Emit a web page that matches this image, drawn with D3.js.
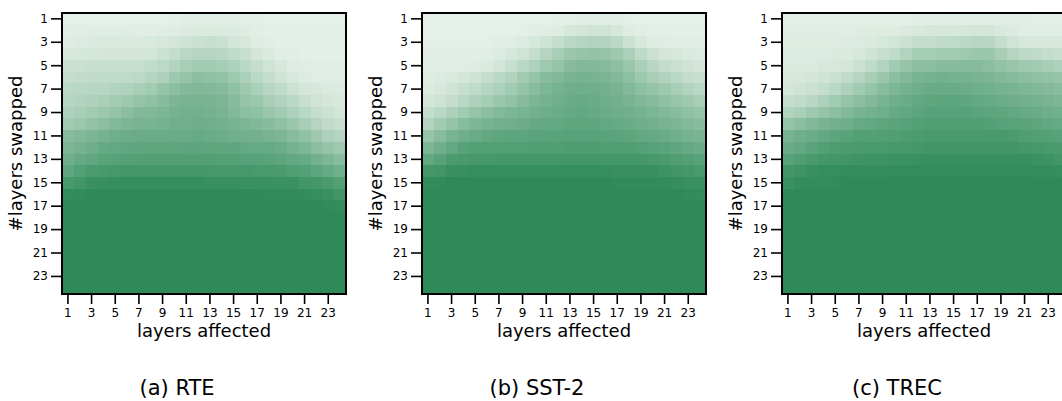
<!DOCTYPE html>
<html>
<head>
<meta charset="utf-8">
<script src="https://cdn.jsdelivr.net/npm/d3@7"></script>
<style>
  body { margin: 0; background: #fff; }
  svg { display: block; }
  text { font-family: "DejaVu Sans", sans-serif; fill: #000; }
</style>
</head>
<body>
<svg id="chart" width="1062" height="401"></svg>
<script>
// Layer indices (rows: layers swapped, columns: layers affected)
const layerIds = [1,2,3,4,5,6,7,8,9,10,11,12,13,14,15,16,17,18,19,20,21,22,23,24];
const tickLayers = [1,3,5,7,9,11,13,15,17,19,21,23];
const captions = ["(a) RTE", "(b) SST-2", "(c) TREC"];

// Normalised effect per (swapped, affected) pair, 0 = none, 1 = full
const rteGrid = [
  [0.02,0.02,0.02,0.02,0.02,0.02,0.02,0.02,0.02,0.03,0.04,0.05,0.05,0.05,0.04,0.03,0.03,0.02,0.02,0.02,0.02,0.02,0.02,0.02],
  [0.04,0.04,0.05,0.05,0.05,0.05,0.04,0.04,0.05,0.06,0.07,0.08,0.08,0.08,0.07,0.06,0.04,0.03,0.03,0.03,0.03,0.03,0.03,0.03],
  [0.06,0.07,0.08,0.09,0.09,0.08,0.08,0.09,0.10,0.12,0.15,0.17,0.18,0.17,0.12,0.10,0.06,0.04,0.03,0.03,0.03,0.03,0.03,0.03],
  [0.10,0.10,0.11,0.12,0.12,0.12,0.12,0.13,0.16,0.20,0.25,0.28,0.28,0.26,0.22,0.18,0.12,0.08,0.05,0.04,0.03,0.03,0.03,0.03],
  [0.17,0.17,0.18,0.18,0.18,0.18,0.19,0.21,0.24,0.30,0.35,0.38,0.38,0.36,0.32,0.25,0.20,0.14,0.10,0.06,0.05,0.04,0.04,0.04],
  [0.20,0.21,0.22,0.22,0.23,0.23,0.24,0.28,0.32,0.40,0.45,0.50,0.48,0.46,0.40,0.33,0.25,0.20,0.14,0.10,0.07,0.05,0.05,0.05],
  [0.25,0.26,0.27,0.27,0.30,0.31,0.35,0.38,0.45,0.50,0.55,0.56,0.55,0.53,0.48,0.40,0.33,0.27,0.22,0.16,0.12,0.10,0.08,0.07],
  [0.28,0.30,0.31,0.33,0.37,0.40,0.45,0.48,0.52,0.58,0.60,0.61,0.60,0.58,0.52,0.45,0.42,0.35,0.30,0.25,0.18,0.14,0.12,0.10],
  [0.32,0.35,0.38,0.42,0.45,0.50,0.55,0.56,0.58,0.62,0.63,0.63,0.62,0.60,0.55,0.50,0.48,0.42,0.38,0.32,0.25,0.20,0.16,0.12],
  [0.38,0.42,0.46,0.50,0.55,0.58,0.60,0.60,0.62,0.65,0.65,0.66,0.65,0.63,0.60,0.58,0.55,0.52,0.48,0.42,0.35,0.28,0.22,0.18],
  [0.52,0.55,0.58,0.62,0.65,0.67,0.68,0.68,0.68,0.69,0.69,0.70,0.68,0.67,0.65,0.63,0.63,0.60,0.58,0.52,0.47,0.40,0.32,0.28],
  [0.58,0.62,0.66,0.70,0.72,0.73,0.73,0.74,0.74,0.74,0.75,0.75,0.74,0.73,0.73,0.71,0.70,0.70,0.67,0.62,0.57,0.50,0.45,0.40],
  [0.65,0.70,0.73,0.77,0.78,0.79,0.80,0.80,0.80,0.80,0.80,0.80,0.80,0.79,0.79,0.78,0.78,0.77,0.75,0.72,0.70,0.63,0.58,0.52],
  [0.73,0.80,0.84,0.86,0.87,0.88,0.88,0.88,0.88,0.88,0.88,0.88,0.87,0.87,0.87,0.87,0.86,0.86,0.85,0.82,0.80,0.75,0.70,0.65],
  [0.86,0.90,0.94,0.95,0.96,0.96,0.96,0.96,0.96,0.96,0.96,0.96,0.95,0.95,0.95,0.94,0.94,0.94,0.93,0.93,0.90,0.88,0.85,0.80],
  [0.98,0.99,1,1,1,1,1,1,1,1,1,1,1,1,1,1,1,0.99,0.99,0.99,0.98,0.96,0.94,0.90],
  [1,1,1,1,1,1,1,1,1,1,1,1,1,1,1,1,1,1,1,1,1,1,0.99,0.98],
  [1,1,1,1,1,1,1,1,1,1,1,1,1,1,1,1,1,1,1,1,1,1,1,1],
  [1,1,1,1,1,1,1,1,1,1,1,1,1,1,1,1,1,1,1,1,1,1,1,1],
  [1,1,1,1,1,1,1,1,1,1,1,1,1,1,1,1,1,1,1,1,1,1,1,1],
  [1,1,1,1,1,1,1,1,1,1,1,1,1,1,1,1,1,1,1,1,1,1,1,1],
  [1,1,1,1,1,1,1,1,1,1,1,1,1,1,1,1,1,1,1,1,1,1,1,1],
  [1,1,1,1,1,1,1,1,1,1,1,1,1,1,1,1,1,1,1,1,1,1,1,1],
  [1,1,1,1,1,1,1,1,1,1,1,1,1,1,1,1,1,1,1,1,1,1,1,1]
];

const sst2Grid = [
  [0.02,0.02,0.02,0.02,0.02,0.02,0.02,0.02,0.02,0.02,0.02,0.03,0.03,0.04,0.05,0.05,0.04,0.03,0.02,0.02,0.02,0.02,0.02,0.02],
  [0.02,0.02,0.02,0.02,0.02,0.02,0.02,0.02,0.03,0.04,0.05,0.06,0.10,0.12,0.14,0.14,0.10,0.06,0.04,0.03,0.03,0.03,0.03,0.03],
  [0.03,0.03,0.03,0.03,0.03,0.03,0.04,0.05,0.07,0.10,0.15,0.20,0.25,0.28,0.30,0.29,0.24,0.16,0.10,0.06,0.05,0.04,0.04,0.04],
  [0.04,0.04,0.04,0.04,0.04,0.05,0.07,0.10,0.14,0.20,0.28,0.35,0.42,0.45,0.46,0.45,0.40,0.33,0.23,0.16,0.12,0.10,0.08,0.07],
  [0.05,0.05,0.05,0.05,0.06,0.08,0.12,0.18,0.25,0.32,0.40,0.45,0.52,0.55,0.55,0.53,0.49,0.42,0.33,0.26,0.20,0.17,0.14,0.12],
  [0.06,0.07,0.09,0.12,0.15,0.20,0.25,0.30,0.38,0.45,0.52,0.56,0.60,0.62,0.61,0.59,0.55,0.49,0.41,0.35,0.30,0.25,0.20,0.18],
  [0.08,0.10,0.14,0.18,0.22,0.28,0.32,0.38,0.45,0.52,0.58,0.62,0.65,0.66,0.65,0.63,0.60,0.55,0.49,0.45,0.40,0.35,0.30,0.25],
  [0.12,0.15,0.20,0.26,0.32,0.36,0.42,0.46,0.52,0.58,0.62,0.65,0.68,0.70,0.68,0.66,0.63,0.60,0.56,0.53,0.48,0.44,0.40,0.35],
  [0.20,0.25,0.32,0.38,0.45,0.50,0.55,0.57,0.60,0.63,0.66,0.68,0.71,0.72,0.70,0.68,0.66,0.64,0.62,0.58,0.55,0.52,0.48,0.45],
  [0.30,0.38,0.45,0.52,0.57,0.60,0.63,0.65,0.67,0.70,0.71,0.72,0.74,0.74,0.73,0.72,0.70,0.68,0.66,0.63,0.60,0.58,0.55,0.52],
  [0.45,0.52,0.60,0.65,0.68,0.72,0.74,0.75,0.75,0.76,0.76,0.77,0.78,0.78,0.78,0.77,0.76,0.74,0.72,0.70,0.68,0.65,0.62,0.60],
  [0.58,0.65,0.72,0.78,0.80,0.80,0.81,0.81,0.81,0.82,0.82,0.82,0.83,0.83,0.83,0.82,0.82,0.82,0.80,0.78,0.76,0.73,0.70,0.68],
  [0.72,0.78,0.84,0.86,0.87,0.87,0.88,0.88,0.88,0.88,0.88,0.88,0.89,0.89,0.89,0.88,0.88,0.88,0.88,0.86,0.84,0.82,0.80,0.78],
  [0.88,0.90,0.94,0.95,0.96,0.96,0.96,0.96,0.96,0.96,0.96,0.96,0.96,0.96,0.96,0.96,0.95,0.95,0.95,0.95,0.92,0.90,0.88,0.86],
  [0.98,0.99,1,1,1,1,1,1,1,1,1,1,1,1,1,1,0.99,0.99,0.99,0.99,0.98,0.96,0.95,0.94],
  [1,1,1,1,1,1,1,1,1,1,1,1,1,1,1,1,1,1,1,1,1,1,0.99,0.98],
  [1,1,1,1,1,1,1,1,1,1,1,1,1,1,1,1,1,1,1,1,1,1,1,1],
  [1,1,1,1,1,1,1,1,1,1,1,1,1,1,1,1,1,1,1,1,1,1,1,1],
  [1,1,1,1,1,1,1,1,1,1,1,1,1,1,1,1,1,1,1,1,1,1,1,1],
  [1,1,1,1,1,1,1,1,1,1,1,1,1,1,1,1,1,1,1,1,1,1,1,1],
  [1,1,1,1,1,1,1,1,1,1,1,1,1,1,1,1,1,1,1,1,1,1,1,1],
  [1,1,1,1,1,1,1,1,1,1,1,1,1,1,1,1,1,1,1,1,1,1,1,1],
  [1,1,1,1,1,1,1,1,1,1,1,1,1,1,1,1,1,1,1,1,1,1,1,1],
  [1,1,1,1,1,1,1,1,1,1,1,1,1,1,1,1,1,1,1,1,1,1,1,1]
];

const trecGrid = [
  [0.03,0.03,0.03,0.03,0.03,0.03,0.03,0.03,0.03,0.03,0.03,0.04,0.04,0.05,0.05,0.05,0.05,0.05,0.05,0.04,0.04,0.03,0.03,0.03],
  [0.05,0.05,0.05,0.05,0.05,0.05,0.06,0.06,0.06,0.06,0.07,0.09,0.10,0.10,0.10,0.11,0.12,0.12,0.09,0.07,0.05,0.05,0.05,0.05],
  [0.06,0.06,0.06,0.06,0.06,0.07,0.07,0.08,0.10,0.13,0.16,0.20,0.20,0.22,0.23,0.25,0.27,0.26,0.20,0.14,0.10,0.10,0.10,0.10],
  [0.07,0.07,0.07,0.07,0.08,0.08,0.10,0.14,0.18,0.22,0.30,0.36,0.36,0.38,0.38,0.40,0.42,0.42,0.35,0.28,0.24,0.22,0.20,0.18],
  [0.08,0.08,0.08,0.10,0.10,0.12,0.16,0.22,0.30,0.38,0.45,0.50,0.50,0.52,0.52,0.53,0.53,0.50,0.46,0.43,0.40,0.38,0.35,0.32],
  [0.10,0.10,0.12,0.14,0.17,0.22,0.28,0.35,0.42,0.50,0.55,0.60,0.62,0.63,0.62,0.62,0.60,0.59,0.56,0.53,0.50,0.48,0.46,0.45],
  [0.12,0.14,0.17,0.20,0.25,0.32,0.38,0.45,0.52,0.58,0.62,0.66,0.69,0.69,0.69,0.67,0.66,0.64,0.62,0.60,0.58,0.56,0.54,0.52],
  [0.20,0.22,0.26,0.32,0.38,0.45,0.50,0.55,0.60,0.65,0.68,0.72,0.74,0.75,0.75,0.73,0.72,0.70,0.68,0.66,0.64,0.62,0.60,0.58],
  [0.30,0.33,0.40,0.45,0.50,0.55,0.60,0.63,0.66,0.70,0.72,0.75,0.78,0.78,0.78,0.78,0.76,0.75,0.74,0.72,0.70,0.68,0.66,0.64],
  [0.45,0.50,0.55,0.60,0.63,0.66,0.70,0.72,0.74,0.76,0.78,0.80,0.82,0.82,0.82,0.82,0.82,0.80,0.78,0.77,0.76,0.74,0.72,0.70],
  [0.60,0.65,0.68,0.72,0.75,0.77,0.80,0.80,0.81,0.82,0.83,0.84,0.86,0.86,0.86,0.86,0.86,0.86,0.86,0.84,0.82,0.80,0.79,0.78],
  [0.68,0.72,0.76,0.80,0.83,0.84,0.85,0.86,0.86,0.87,0.87,0.88,0.90,0.90,0.90,0.90,0.90,0.90,0.90,0.90,0.88,0.87,0.86,0.85],
  [0.78,0.82,0.85,0.88,0.89,0.90,0.91,0.92,0.92,0.93,0.93,0.94,0.95,0.95,0.95,0.95,0.95,0.95,0.95,0.95,0.95,0.93,0.92,0.90],
  [0.90,0.92,0.95,0.96,0.96,0.97,0.97,0.97,0.97,0.98,0.98,0.98,0.98,0.98,0.98,0.98,0.98,0.98,0.98,0.98,0.98,0.97,0.97,0.96],
  [0.94,0.97,0.98,0.98,0.99,1,1,1,1,1,1,1,1,1,1,1,1,1,1,1,1,1,1,1],
  [1,1,1,1,1,1,1,1,1,1,1,1,1,1,1,1,1,1,1,1,1,1,1,1],
  [1,1,1,1,1,1,1,1,1,1,1,1,1,1,1,1,1,1,1,1,1,1,1,1],
  [1,1,1,1,1,1,1,1,1,1,1,1,1,1,1,1,1,1,1,1,1,1,1,1],
  [1,1,1,1,1,1,1,1,1,1,1,1,1,1,1,1,1,1,1,1,1,1,1,1],
  [1,1,1,1,1,1,1,1,1,1,1,1,1,1,1,1,1,1,1,1,1,1,1,1],
  [1,1,1,1,1,1,1,1,1,1,1,1,1,1,1,1,1,1,1,1,1,1,1,1],
  [1,1,1,1,1,1,1,1,1,1,1,1,1,1,1,1,1,1,1,1,1,1,1,1],
  [1,1,1,1,1,1,1,1,1,1,1,1,1,1,1,1,1,1,1,1,1,1,1,1],
  [1,1,1,1,1,1,1,1,1,1,1,1,1,1,1,1,1,1,1,1,1,1,1,1]
];

const grids = [rteGrid, sst2Grid, trecGrid];

// Layout
const panelStep = 360;
const firstLeft = 62;
const panelTop = 13;
const cellW = 284;
const cellH = 281;

// Light seagreen colormap
const color = d3.scaleLinear()
  .domain([0, 1])
  .range(["#e9f2eb", "#2e8b57"])
  .interpolate(d3.interpolateRgb);

const x = d3.scaleBand().domain(layerIds).range([0, cellW]).padding(0);
const y = d3.scaleBand().domain(layerIds).range([0, cellH]).padding(0);

const svg = d3.select("#chart");
svg.append("rect").attr("width", 1062).attr("height", 401).attr("fill", "#fff");

grids.forEach((grid, i) => {
  const left = firstLeft + i * panelStep;
  const g = svg.append("g").attr("transform", `translate(${left},${panelTop})`);

  const cells = [];
  grid.forEach((row, r) => row.forEach((v, c) => cells.push({ r: layerIds[r], c: layerIds[c], v })));

  g.append("g")
    .attr("shape-rendering", "crispEdges")
    .selectAll("rect")
    .data(cells)
    .join("rect")
    .attr("x", d => x(d.c))
    .attr("y", d => y(d.r))
    .attr("width", x.bandwidth())
    .attr("height", y.bandwidth())
    .attr("fill", d => color(d.v));

  // axes
  const yAxis = g.append("g")
    .call(d3.axisLeft(y).tickValues(tickLayers).tickSize(11).tickPadding(3));
  const xAxis = g.append("g")
    .attr("transform", `translate(0,${cellH})`)
    .call(d3.axisBottom(x).tickValues(tickLayers).tickSize(10).tickPadding(4));

  [yAxis, xAxis].forEach(a => {
    a.select(".domain").remove();
    a.selectAll(".tick line").attr("stroke", "#000").attr("stroke-width", 1.6);
    a.selectAll(".tick text").attr("font-size", 12).attr("font-family", "DejaVu Sans").attr("fill", "#000");
  });

  // frame
  g.append("rect")
    .attr("width", cellW).attr("height", cellH)
    .attr("fill", "none").attr("stroke", "#000").attr("stroke-width", 2);

  // axis titles
  g.append("text")
    .attr("x", cellW / 2).attr("y", 324)
    .attr("text-anchor", "middle").attr("font-size", 18)
    .text("layers affected");

  g.append("text")
    .attr("transform", `translate(${22 - firstLeft},${cellH / 2}) rotate(-90)`)
    .attr("text-anchor", "middle").attr("font-size", 18)
    .text("#layers swapped");

  // sub-figure caption
  svg.append("text")
    .attr("x", 177 + i * panelStep).attr("y", 395)
    .attr("text-anchor", "middle").attr("font-size", 21)
    .text(captions[i]);
});
</script>
</body>
</html>
